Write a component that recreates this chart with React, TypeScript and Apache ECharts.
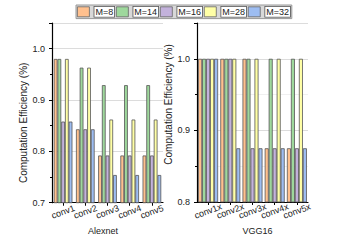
import React, { useEffect, useRef } from "react";
import * as echarts from "echarts";

const seriesNames = ["M=8", "M=14", "M=16", "M=28", "M=32"];
const seriesColors = ["#FFC08E", "#9ED89C", "#C3B2DC", "#FFFFA6", "#9DBDF2"];

const alexCategories = ["conv1", "conv2", "conv3", "conv4", "conv5"];
const alexM8 = [0.98, 0.843, 0.792, 0.792, 0.792];
const alexM14 = [0.98, 0.963, 0.929, 0.929, 0.929];
const alexM16 = [0.858, 0.843, 0.792, 0.792, 0.792];
const alexM28 = [0.98, 0.963, 0.862, 0.862, 0.862];
const alexM32 = [0.858, 0.843, 0.754, 0.754, 0.754];

const vggCategories = ["conv1x", "conv2x", "conv3x", "conv4x", "conv5x"];
const vggM8 = [1.0, 1.0, 1.0, 0.875, 0.875];
const vggM14 = [1.0, 1.0, 1.0, 1.0, 1.0];
const vggM16 = [1.0, 1.0, 0.875, 0.875, 0.875];
const vggM28 = [1.0, 1.0, 1.0, 1.0, 1.0];
const vggM32 = [1.0, 0.875, 0.875, 0.875, 0.875];

const yName = "Computation Efficiency (%)";
const FONT = "Liberation Sans, Arial, sans-serif";

export default function App() {
  const ref = useRef<HTMLDivElement>(null);
  useEffect(() => {
    document.body.style.margin = "0";
    if (!ref.current) return;
    const chart = echarts.init(ref.current, undefined, { renderer: "svg" });
    const alexData = [alexM8, alexM14, alexM16, alexM28, alexM32];
    const vggData = [vggM8, vggM14, vggM16, vggM28, vggM32];

    const mkX = (idx: number, cats: string[], name: string, pad: number[]) => ({
      type: "category",
      gridIndex: idx,
      data: cats,
      name,
      nameLocation: "middle",
      nameGap: 23,
      nameTextStyle: { fontSize: 9, color: "#222", fontFamily: FONT, padding: pad },
      axisLine: { lineStyle: { color: "#000", width: 1.2 } },
      axisTick: { show: true, alignWithLabel: true, length: 3, lineStyle: { color: "#000" } },
      axisLabel: {
        rotate: 20,
        align: "center",
        verticalAlign: "middle",
        margin: 9,
        fontSize: 9,
        color: "#222",
        fontFamily: FONT,
        interval: 0,
      },
    });
    const mkY = (idx: number, min: number, pad: number[], minorLines: boolean, gap: number) => ({
      type: "value",
      gridIndex: idx,
      min,
      max: 1.05,
      interval: 0.1,
      name: yName,
      nameLocation: "middle",
      nameGap: gap,
      nameTextStyle: { fontSize: 10, color: "#222", fontFamily: FONT, padding: pad },
      axisLine: { show: true, lineStyle: { color: "#000", width: 1.2 } },
      axisTick: { show: true, length: 3, lineStyle: { color: "#000" } },
      minorTick: { show: true, splitNumber: 2, length: 2, lineStyle: { color: "#000" } },
      minorSplitLine: { show: minorLines, lineStyle: { color: "#f0f0f0", width: 1 } },
      splitLine: { show: true, lineStyle: { color: "#dcdcdc", width: 1 } },
      axisLabel: {
        margin: 7,
        fontSize: 9,
        color: "#222",
        fontFamily: FONT,
        showMaxLabel: false,
        formatter: (v: number) => v.toFixed(1),
      },
    });

    const series: any[] = [];
    seriesNames.forEach((n, i) => {
      series.push({
        name: n,
        type: "bar",
        xAxisIndex: 0,
        yAxisIndex: 0,
        data: alexData[i],
        barGap: "0%",
        barCategoryGap: "16%",
        itemStyle: { color: seriesColors[i], borderColor: "#555", borderWidth: 0.8 },
      });
    });
    seriesNames.forEach((n, i) => {
      series.push({
        name: n,
        type: "bar",
        xAxisIndex: 1,
        yAxisIndex: 1,
        data: vggData[i],
        barGap: "0%",
        barCategoryGap: "10%",
        itemStyle: { color: seriesColors[i], borderColor: "#555", borderWidth: 0.8 },
      });
    });

    chart.setOption({
      animation: false,
      backgroundColor: "#fff",
      textStyle: { fontFamily: FONT },
      legend: {
        data: seriesNames,
        left: 76,
        top: 5,
        orient: "horizontal",
        itemWidth: 12,
        itemHeight: 10,
        itemGap: 1,
        padding: [1, 1],
        backgroundColor: "#d8d8d8",
        borderColor: "#999",
        borderWidth: 1,
        icon: "rect",
        itemStyle: { borderColor: "#666", borderWidth: 0.8 },
        textStyle: {
          fontSize: 9,
          color: "#222",
          fontFamily: FONT,
          backgroundColor: "#fff",
          borderColor: "#555",
          borderWidth: 0.8,
          padding: [1, 1, 0, 1],
          lineHeight: 9,
        },
      },
      grid: [
        { left: 52, right: 180, top: 23, bottom: 36.5, containLabel: false },
        { left: 197, right: 35, top: 23, bottom: 36.5, containLabel: false },
      ],
      xAxis: [
        mkX(0, alexCategories, "Alexnet", [0, 9, 0, 0]),
        mkX(1, vggCategories, "VGG16", [0, 0, 0, 10]),
      ],
      yAxis: [
        mkY(0, 0.7, [0, 20, 0, 0], false, 20),
        mkY(1, 0.8, [0, 0, 0, 16], true, 23),
      ],
      series,
    });
    return () => chart.dispose();
  }, []);
  return <div ref={ref} style={{ width: 343, height: 240 }} />;
}
